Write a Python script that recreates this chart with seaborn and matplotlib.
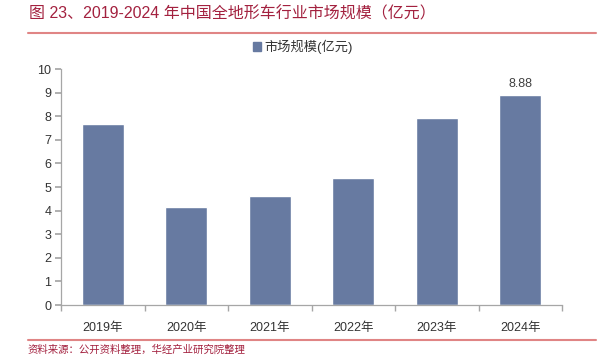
import matplotlib
matplotlib.use("Agg")
import matplotlib.pyplot as plt
import seaborn as sns
import pandas as pd
from matplotlib.patches import Rectangle
from matplotlib.lines import Line2D

years = ["2019年", "2020年", "2021年", "2022年", "2023年", "2024年"]
values = [7.66, 4.15, 4.63, 5.38, 7.94, 8.88]
yticks = [0, 1, 2, 3, 4, 5, 6, 7, 8, 9, 10]
title = "图 23、2019-2024 年中国全地形车行业市场规模（亿元）"
legend_label = "市场规模(亿元)"
source = "资料来源：公开资料整理，华经产业研究院整理"

sns.set_theme(style="white")
plt.rcParams['font.family'] = ['Liberation Sans', 'Noto Sans CJK SC', 'DejaVu Sans']

df = pd.DataFrame({"year": years, "value": values})

fig = plt.figure(figsize=(6.02, 3.57), dpi=100)
ax = fig.add_axes([61/602, 1-305/357, (562-61)/602, (305-69)/357])

bar_color = "#677AA1"
sns.barplot(data=df, x="year", y="value", color=bar_color, width=0.5,
            saturation=1, ax=ax)

ax.set_xlim(-0.5, 5.5)
ax.set_ylim(0, 10)
ax.set_yticks(yticks)
ax.set_xlabel("")
ax.set_ylabel("")
for s in ["top", "right"]:
    ax.spines[s].set_visible(False)
for s in ["left", "bottom"]:
    ax.spines[s].set_color("#A6A6A6")
    ax.spines[s].set_linewidth(0.9)

ax.tick_params(axis="y", which="both", left=True, length=4, color="#A6A6A6",
               labelsize=9, labelcolor="#333333", pad=3)
ax.tick_params(axis="x", which="major", bottom=False, labelsize=9,
               labelcolor="#333333", pad=6)
ax.set_xticks([i - 0.5 for i in range(7)], minor=True)
ax.tick_params(axis="x", which="minor", bottom=True, length=4, color="#A6A6A6")

# data label on the last bar
ax.text(5, values[-1] + 0.25, f"{values[-1]:.2f}", ha="center", va="bottom",
        fontsize=9, color="#404040")

# legend
handle = Rectangle((0, 0), 1, 1, color=bar_color)
fig.legend([handle], [legend_label], loc="center", bbox_to_anchor=(303/602, 1-47/357),
           frameon=False, fontsize=9.5, handlelength=0.6, handleheight=0.6,
           handletextpad=0.3, labelcolor="#333333")

# title
fig.text(29/602, 1-14/357, title, ha="left", va="center", fontsize=11.5,
         color="#A3213F", family=['Liberation Sans', 'Noto Sans CJK SC'])

# horizontal rules
fig.add_artist(Line2D([28/602, 596/602], [1-33/357, 1-33/357], color="#E08585",
                      linewidth=1.5, transform=fig.transFigure))
fig.add_artist(Line2D([28/602, 596/602], [1-340/357, 1-340/357], color="#E08585",
                      linewidth=1.5, transform=fig.transFigure))

# source line at the bottom
fig.text(28/602, 1-350/357, source, ha="left", va="center", fontsize=7.5,
         color="#A3213F")

fig.savefig("out.png", dpi=100)
